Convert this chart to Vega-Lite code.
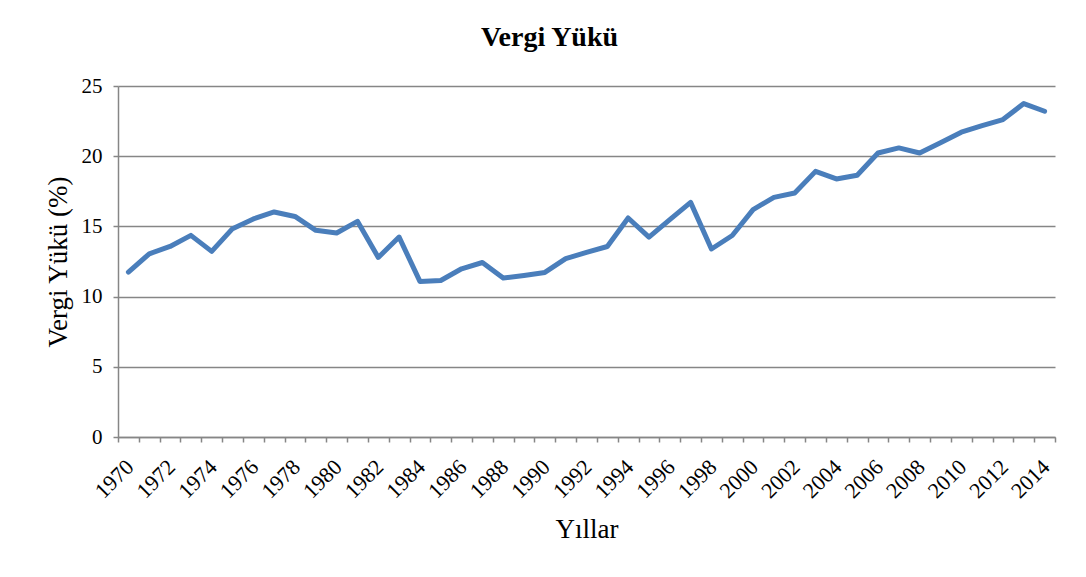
{
  "$schema": "https://vega.github.io/schema/vega-lite/v6.json",
  "autosize": "none",
  "width": 937,
  "height": 351,
  "padding": {"left": 118, "top": 86, "right": 31, "bottom": 140},
  "background": "white",
  "config": {
    "view": {"stroke": null},
    "font": "Liberation Serif"
  },
  "title": {
    "text": "Vergi Yükü",
    "font": "Liberation Serif",
    "fontSize": 28,
    "fontWeight": "bold",
    "color": "black",
    "anchor": "middle",
    "baseline": "alphabetic",
    "offset": 40,
    "dx": -37,
    "dy": 39
  },
  "data": {
    "values": [
      {"yil": 1970, "deger": 11.75},
      {"yil": 1971, "deger": 13.05},
      {"yil": 1972, "deger": 13.57},
      {"yil": 1973, "deger": 14.36},
      {"yil": 1974, "deger": 13.22},
      {"yil": 1975, "deger": 14.84},
      {"yil": 1976, "deger": 15.53},
      {"yil": 1977, "deger": 16.03},
      {"yil": 1978, "deger": 15.71},
      {"yil": 1979, "deger": 14.72},
      {"yil": 1980, "deger": 14.53},
      {"yil": 1981, "deger": 15.36},
      {"yil": 1982, "deger": 12.79},
      {"yil": 1983, "deger": 14.24},
      {"yil": 1984, "deger": 11.08},
      {"yil": 1985, "deger": 11.15},
      {"yil": 1986, "deger": 11.98},
      {"yil": 1987, "deger": 12.43},
      {"yil": 1988, "deger": 11.32},
      {"yil": 1989, "deger": 11.51},
      {"yil": 1990, "deger": 11.72},
      {"yil": 1991, "deger": 12.70},
      {"yil": 1992, "deger": 13.15},
      {"yil": 1993, "deger": 13.57},
      {"yil": 1994, "deger": 15.60},
      {"yil": 1995, "deger": 14.24},
      {"yil": 1996, "deger": 15.48},
      {"yil": 1997, "deger": 16.71},
      {"yil": 1998, "deger": 13.39},
      {"yil": 1999, "deger": 14.35},
      {"yil": 2000, "deger": 16.19},
      {"yil": 2001, "deger": 17.07},
      {"yil": 2002, "deger": 17.38},
      {"yil": 2003, "deger": 18.92},
      {"yil": 2004, "deger": 18.38},
      {"yil": 2005, "deger": 18.64},
      {"yil": 2006, "deger": 20.23},
      {"yil": 2007, "deger": 20.59},
      {"yil": 2008, "deger": 20.23},
      {"yil": 2009, "deger": 20.95},
      {"yil": 2010, "deger": 21.71},
      {"yil": 2011, "deger": 22.18},
      {"yil": 2012, "deger": 22.61},
      {"yil": 2013, "deger": 23.75},
      {"yil": 2014, "deger": 23.20}
    ]
  },
  "mark": {"type": "line", "color": "#4A7EBB", "strokeWidth": 5, "strokeJoin": "round", "strokeCap": "round"},
  "encoding": {
    "x": {
      "field": "yil",
      "type": "quantitative",
      "scale": {"domain": [1969.5, 2014.5], "nice": false, "zero": false},
      "axis": {
        "title": "Yıllar",
        "titleFont": "Liberation Serif",
        "titleFontSize": 27,
        "titleFontWeight": "normal",
        "titleColor": "black",
        "titlePadding": 15,
        "values": [1969.5, 1970.5, 1971.5, 1972.5, 1973.5, 1974.5, 1975.5, 1976.5, 1977.5, 1978.5, 1979.5, 1980.5, 1981.5, 1982.5, 1983.5, 1984.5, 1985.5, 1986.5, 1987.5, 1988.5, 1989.5, 1990.5, 1991.5, 1992.5, 1993.5, 1994.5, 1995.5, 1996.5, 1997.5, 1998.5, 1999.5, 2000.5, 2001.5, 2002.5, 2003.5, 2004.5, 2005.5, 2006.5, 2007.5, 2008.5, 2009.5, 2010.5, 2011.5, 2012.5, 2013.5, 2014.5],
        "labelExpr": "(datum.value + 0.5) % 2 == 0 ? format(datum.value + 0.5, 'd') : ''",
        "labelAngle": -45,
        "labelAlign": "right",
        "labelBaseline": "middle",
        "labelOffset": 11.5,
        "labelPadding": 21,
        "labelFont": "Liberation Serif",
        "labelFontSize": 22,
        "labelColor": "black",
        "labelOverlap": false,
        "labelBound": false,
        "labelFlush": false,
        "grid": false,
        "domainColor": "#868686",
        "domainWidth": 1.5,
        "tickColor": "#868686",
        "tickWidth": 1.5,
        "tickSize": 5
      }
    },
    "y": {
      "field": "deger",
      "type": "quantitative",
      "scale": {"domain": [0, 25], "nice": false},
      "axis": {
        "title": "Vergi Yükü (%)",
        "titleFont": "Liberation Serif",
        "titleFontSize": 27,
        "titleFontWeight": "normal",
        "titleColor": "black",
        "titlePadding": 9,
        "values": [0, 5, 10, 15, 20, 25],
        "labelFont": "Liberation Serif",
        "labelFontSize": 21,
        "labelColor": "black",
        "labelPadding": 11,
        "grid": true,
        "gridColor": "#868686",
        "gridWidth": 1.5,
        "domainColor": "#868686",
        "domainWidth": 1.5,
        "tickColor": "#868686",
        "tickWidth": 1.5,
        "tickSize": 5
      }
    }
  }
}
